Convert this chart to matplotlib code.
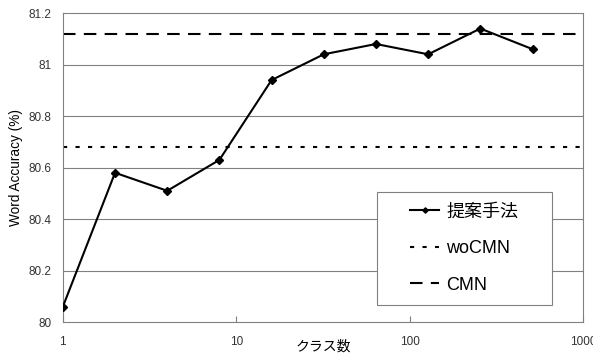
import matplotlib.pyplot as plt
from matplotlib.patches import Rectangle

plt.rcParams['font.family'] = ['Liberation Sans', 'Noto Sans CJK JP']

# Data
classes = [1, 2, 4, 8, 16, 32, 64, 128, 256, 512]
accuracy = [80.06, 80.58, 80.51, 80.63, 80.94, 81.04, 81.08, 81.04, 81.14, 81.06]
wocmn = 80.68
cmn = 81.12
x_ticks = [1, 10, 100, 1000]
y_ticks = [80, 80.2, 80.4, 80.6, 80.8, 81, 81.2]

fig = plt.figure(figsize=(5.93, 3.54), dpi=100)
ax = fig.add_axes([0.106, 0.090, 0.877, 0.873])

ax.set_xscale('log')
ax.set_xlim(1, 1000)
ax.set_ylim(80, 81.2)

# Grid lines
for y in y_ticks[1:-1]:
    ax.axhline(y, color='#808080', lw=0.8, zorder=0)

ax.plot(classes, accuracy, color='black', lw=1.5, marker='D', ms=4.5, label='提案手法', zorder=3)
ax.axhline(wocmn, color='black', lw=1.5, ls=(0, (2, 4)), label='woCMN', zorder=2)
ax.axhline(cmn, color='black', lw=1.5, ls=(0, (6, 4)), label='CMN', zorder=2)

ax.set_xticks(x_ticks)
ax.set_xticklabels(['1', '10', '100', '1000'])
ax.minorticks_off()
ax.set_yticks(y_ticks)
ax.set_yticklabels(['80', '80.2', '80.4', '80.6', '80.8', '81', '81.2'])
ax.tick_params(axis='x', direction='in', length=4, color='#808080', labelsize=8.5, pad=10,
               labelcolor='#333333')
ax.tick_params(axis='y', length=0, labelsize=8.5, pad=8, labelcolor='#333333')

for s in ax.spines.values():
    s.set_color('#808080')
    s.set_linewidth(0.8)

ax.set_xlabel('クラス数', fontsize=10)
ax.xaxis.set_label_coords(0.5, -0.057)
ax.set_ylabel('Word Accuracy (%)', fontsize=9.8)
ax.yaxis.set_label_coords(-0.077, 0.5)

# Legend box
ax.add_patch(Rectangle((0.604, 0.055), 0.336, 0.366, transform=ax.transAxes,
                       facecolor='white', edgecolor='#808080', lw=0.8, zorder=4))
leg = ax.legend(loc='center', bbox_to_anchor=(0.772, 0.238), frameon=False,
                fontsize=13, handlelength=1.6, handletextpad=0.4, labelspacing=1.08,
                markerscale=0.6)
leg.set_zorder(5)

fig.savefig('out.png', dpi=100)
